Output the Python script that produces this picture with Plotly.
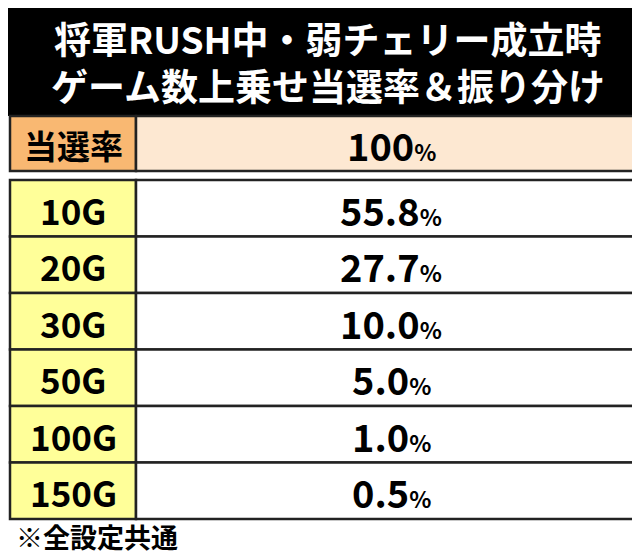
import plotly.graph_objects as go

title_lines = ["将軍RUSH中・弱チェリー成立時", "ゲーム数上乗せ当選率＆振り分け"]
header_label = "当選率"
header_value = "100"
games = ["10G", "20G", "30G", "50G", "100G", "150G"]
rates = [55.8, 27.7, 10.0, 5.0, 1.0, 0.5]
footnote = "※全設定共通"

W, H = 640, 555
FONT = "Noto Sans CJK JP"
X0, XM, X1 = 2, 128, 638
ROW_TOP, ROW_H = 172, 56.5

def pct(v):
    return f"<b>{v}<span style='font-size:23px'>%</span></b>"

fig = go.Figure()
fig.add_trace(go.Scatter(x=[0, W], y=[0, H], mode="markers", marker_opacity=0, hoverinfo="skip"))

def cell(x0, x1, y0, y1, fill, text, size=38):
    fig.add_shape(type="rect", x0=x0, x1=x1, y0=y0, y1=y1, fillcolor=fill,
                  line=dict(color="#222", width=2.5), layer="below")
    fig.add_annotation(text=text, x=(x0 + x1) / 2, y=(y0 + y1) / 2 + 1, showarrow=False,
                       font=dict(family=FONT, size=size, color="black"))

fig.add_shape(type="rect", x0=0, x1=W, y0=0, y1=108, fillcolor="black", line_width=0, layer="below")
for i, t in enumerate(title_lines):
    fig.add_annotation(text=f"<b>{t}</b>", x=W / 2, y=30 + i * 47, showarrow=False,
                       font=dict(family=FONT, size=37, color="white"))

cell(X0, XM, 108, 163, "#f9b872", f"<b>{header_label}</b>", 33)
cell(XM, X1, 108, 163, "#fde8d2", pct(header_value))
for i, (g, r) in enumerate(zip(games, rates)):
    y0 = ROW_TOP + i * ROW_H
    cell(X0, XM, y0, y0 + ROW_H, "#ffff99", f"<b>{g}</b>", 35)
    cell(XM, X1, y0, y0 + ROW_H, "white", pct(f"{r:.1f}"))

fig.add_annotation(text=f"<b>{footnote}</b>", x=6, y=528, xanchor="left", showarrow=False,
                   font=dict(family=FONT, size=27, color="black"))

fig.update_xaxes(range=[0, W], visible=False, fixedrange=True)
fig.update_yaxes(range=[H, 0], visible=False, fixedrange=True)
fig.update_layout(width=W, height=H, margin=dict(l=0, r=0, t=0, b=0),
                  paper_bgcolor="white", plot_bgcolor="white", showlegend=False)
fig.write_html("out.html")
